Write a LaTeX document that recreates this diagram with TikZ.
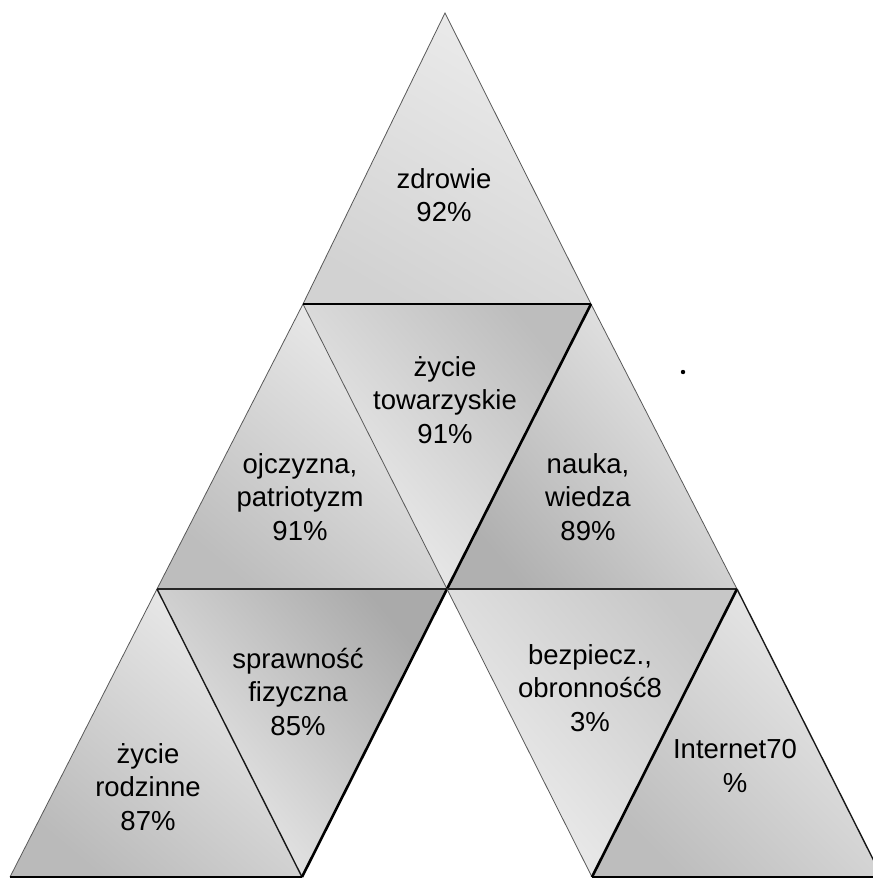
\documentclass[tikz,border=0pt]{standalone}
\usepackage{fontspec}
\setmainfont{Liberation Sans}
\begin{document}
\begin{tikzpicture}[x=1pt,y=-1pt,
  lbl/.style={align=center,font=\fontsize{27.5}{33.5}\selectfont,inner sep=0pt,text=black},
  thinedge/.style={draw=black!65,line width=0.8pt},
  darkedge/.style={draw=black!90,line width=1.4pt},
  heavyedge/.style={draw=black,line width=2.6pt},
  baseedge/.style={draw=black,line width=2.8pt},
  rowedge/.style={draw=black!85,line width=1.8pt}
]
\useasboundingbox[fill=white] (0,0) rectangle (872,880);
% vertices
\coordinate (A)  at (445,13);
\coordinate (B1) at (303,304);
\coordinate (C1) at (591,304);
\coordinate (L2) at (157,589);
\coordinate (M2) at (447,589);
\coordinate (R2) at (737,589);
\coordinate (P0) at (10,877);
\coordinate (P1) at (302,877);
\coordinate (P2) at (592,877);
\coordinate (P3) at (882,877);
% shaded faces
\shade[top color=gray!15, bottom color=gray!35, shading angle=-30] (A)--(B1)--(C1)--cycle;
\shade[top color=gray!52, middle color=gray!16, bottom color=gray!12, shading angle=-50] (B1)--(C1)--(M2)--cycle;
\shade[top color=gray!14, middle color=gray!22, bottom color=gray!52, shading angle=-40] (B1)--(L2)--(M2)--cycle;
\shade[top color=gray!17, middle color=gray!27, bottom color=gray!62, shading angle=-50] (C1)--(M2)--(R2)--cycle;
\shade[top color=gray!14, middle color=gray!24, bottom color=gray!54, shading angle=-40] (L2)--(P0)--(P1)--cycle;
\shade[top color=gray!67, middle color=gray!27, bottom color=gray!14, shading angle=-50] (L2)--(M2)--(P1)--cycle;
\shade[top color=gray!44, middle color=gray!17, bottom color=gray!12, shading angle=-50] (M2)--(R2)--(P2)--cycle;
\shade[top color=gray!16, middle color=gray!26, bottom color=gray!52, shading angle=-45] (R2)--(P2)--(P3)--cycle;
% edges
\draw[thinedge] (B1)--(A)--(C1);
\draw[thinedge] (B1)--(L2);
\draw[thinedge] (B1)--(M2);
\draw[thinedge] (C1)--(R2);
\draw[heavyedge] (C1)--(M2);
\draw[rowedge] (L2)--(M2)--(R2);
\draw[thinedge] (L2)--(P0);
\draw[darkedge] (L2)--(P1);
\draw[heavyedge] (M2)--(P1);
\draw[thinedge] (M2)--(P2);
\draw[heavyedge] (R2)--(P2);
\draw[darkedge] (R2)--(P3);
\draw[baseedge] (B1)--(C1);
\draw[baseedge] (P0)--(P1);
\draw[baseedge] (P2)--(P3);
% speck
\fill[black] (683,372) circle (2.2pt);
% labels
\node[lbl] (zdr) at (444,195) {zdrowie\\92\%};
\node[lbl] (tow) at (445,400) {życie\\towarzyskie\\91\%};
\node[lbl] (ojc) at (300,497) {ojczyzna,\\patriotyzm\\91\%};
\node[lbl] (nau) at (588,497) {nauka,\\wiedza\\89\%};
\node[lbl] (spr) at (298,692) {sprawność\\fizyczna\\85\%};
\node[lbl] (rod) at (148,787) {życie\\rodzinne\\87\%};
\node[lbl] (bez) at (590,688) {bezpiecz.,\\obronność8\\3\%};
\node[lbl] (int) at (735,766) {Internet70\\\%};
\end{tikzpicture}
\end{document}
